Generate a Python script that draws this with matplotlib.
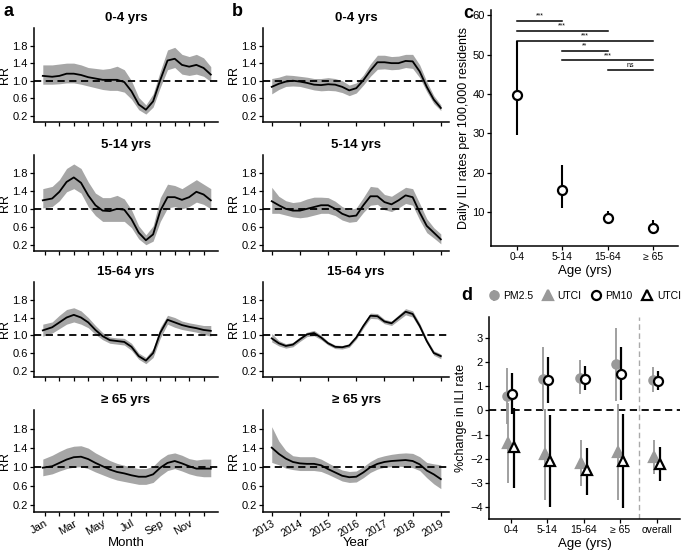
import matplotlib
matplotlib.use('Agg')
import matplotlib.pyplot as plt
import numpy as np

plt.rcParams['font.family'] = ['Liberation Sans', 'DejaVu Sans']

# ---------------- data ----------------
age_titles = ['0-4 yrs', '5-14 yrs', '15-64 yrs', '\u2265 65 yrs']

# panel a: seasonal RR by month (0 = Jan)
month_x = [-0.15, 0.5, 1.0, 1.5, 2.0, 2.5, 3.0, 3.5, 4.0, 4.5, 5.0, 5.5,
           6.0, 6.5, 7.0, 7.5, 8.0, 8.5, 9.0, 9.5, 10.0, 10.5, 11.0, 11.5]
month_labels = ['Jan', '', 'Mar', '', 'May', '', 'Jul', '', 'Sep', '', 'Nov', '']

season_rr = [
    [1.11, 1.09, 1.11, 1.16, 1.16, 1.13, 1.08, 1.05, 1.02, 1.02, 1.02, 0.97,
     0.76, 0.46, 0.34, 0.53, 1.02, 1.46, 1.50, 1.36, 1.32, 1.36, 1.29, 1.14],
    [1.19, 1.23, 1.38, 1.60, 1.70, 1.58, 1.30, 1.08, 0.96, 0.95, 1.00, 0.98,
     0.77, 0.47, 0.30, 0.43, 0.96, 1.26, 1.26, 1.20, 1.26, 1.38, 1.32, 1.19],
    [1.11, 1.18, 1.29, 1.40, 1.46, 1.40, 1.29, 1.12, 0.98, 0.89, 0.87, 0.85,
     0.74, 0.53, 0.43, 0.60, 1.06, 1.35, 1.29, 1.23, 1.19, 1.16, 1.12, 1.10],
    [0.99, 1.02, 1.09, 1.16, 1.21, 1.22, 1.17, 1.09, 1.02, 0.95, 0.90, 0.87,
     0.83, 0.80, 0.80, 0.85, 0.99, 1.09, 1.13, 1.08, 1.02, 0.97, 0.97, 0.97],
]
season_hi = [
    [1.36, 1.36, 1.38, 1.40, 1.40, 1.36, 1.30, 1.28, 1.26, 1.28, 1.33, 1.25,
     1.00, 0.62, 0.45, 0.70, 1.22, 1.70, 1.76, 1.60, 1.55, 1.60, 1.52, 1.32],
    [1.45, 1.50, 1.65, 1.90, 2.00, 1.90, 1.60, 1.35, 1.25, 1.25, 1.30, 1.22,
     0.98, 0.62, 0.42, 0.62, 1.25, 1.55, 1.52, 1.45, 1.55, 1.65, 1.55, 1.45],
    [1.25, 1.30, 1.45, 1.58, 1.62, 1.55, 1.40, 1.22, 1.06, 0.96, 0.94, 0.93,
     0.82, 0.60, 0.50, 0.70, 1.18, 1.45, 1.40, 1.32, 1.28, 1.25, 1.22, 1.22],
    [1.17, 1.25, 1.33, 1.40, 1.44, 1.45, 1.40, 1.30, 1.22, 1.14, 1.08, 1.04,
     1.00, 0.97, 0.97, 1.02, 1.17, 1.27, 1.30, 1.25, 1.18, 1.15, 1.17, 1.17],
]
season_lo = [
    [0.92, 0.92, 0.93, 0.95, 0.95, 0.92, 0.88, 0.84, 0.80, 0.78, 0.78, 0.74,
     0.58, 0.34, 0.24, 0.40, 0.85, 1.25, 1.30, 1.15, 1.12, 1.15, 1.10, 0.98],
    [1.02, 1.05, 1.18, 1.38, 1.45, 1.35, 1.05, 0.85, 0.72, 0.72, 0.72, 0.72,
     0.58, 0.33, 0.20, 0.28, 0.72, 1.02, 1.05, 1.00, 1.05, 1.15, 1.10, 1.00],
    [0.98, 1.05, 1.15, 1.25, 1.30, 1.25, 1.17, 1.02, 0.90, 0.82, 0.80, 0.78,
     0.66, 0.46, 0.36, 0.50, 0.94, 1.25, 1.18, 1.13, 1.10, 1.07, 1.02, 0.98],
    [0.82, 0.86, 0.92, 0.97, 1.00, 1.01, 0.97, 0.90, 0.84, 0.78, 0.73, 0.70,
     0.67, 0.64, 0.64, 0.68, 0.82, 0.93, 0.97, 0.92, 0.86, 0.82, 0.80, 0.80],
]

# panel b: long-term trend RR by year
year_x = [2013.0, 2013.25, 2013.5, 2013.75, 2014.0, 2014.25, 2014.5, 2014.75,
          2015.0, 2015.25, 2015.5, 2015.75, 2016.0, 2016.25, 2016.5, 2016.75,
          2017.0, 2017.25, 2017.5, 2017.75, 2018.0, 2018.25, 2018.5, 2018.75, 2019.0]
year_ticks = [2013, 2014, 2015, 2016, 2017, 2018, 2019]

trend_rr = [
    [0.86, 0.93, 0.98, 1.00, 0.98, 0.95, 0.91, 0.90, 0.92, 0.91, 0.86, 0.78,
     0.83, 1.01, 1.23, 1.42, 1.42, 1.40, 1.40, 1.45, 1.44, 1.21, 0.86, 0.57, 0.38],
    [1.17, 1.08, 1.00, 0.96, 0.96, 1.00, 1.04, 1.08, 1.08, 1.00, 0.89, 0.83,
     0.85, 1.08, 1.28, 1.28, 1.15, 1.10, 1.19, 1.30, 1.26, 0.92, 0.62, 0.47, 0.32],
    [0.93, 0.82, 0.76, 0.79, 0.91, 1.02, 1.05, 0.95, 0.82, 0.74, 0.73, 0.77,
     0.95, 1.21, 1.44, 1.43, 1.31, 1.27, 1.40, 1.53, 1.48, 1.21, 0.87, 0.60, 0.53],
    [1.41, 1.28, 1.18, 1.11, 1.08, 1.07, 1.07, 1.04, 0.96, 0.89, 0.82, 0.79,
     0.80, 0.89, 1.00, 1.07, 1.11, 1.13, 1.14, 1.15, 1.13, 1.06, 0.93, 0.85, 0.75],
]
trend_hi = [
    [1.05, 1.08, 1.13, 1.12, 1.10, 1.08, 1.05, 1.05, 1.07, 1.05, 1.00, 0.90,
     0.95, 1.13, 1.38, 1.58, 1.58, 1.55, 1.56, 1.60, 1.60, 1.36, 0.98, 0.66, 0.45],
    [1.48, 1.28, 1.18, 1.14, 1.16, 1.22, 1.26, 1.26, 1.25, 1.17, 1.05, 0.98,
     1.02, 1.25, 1.50, 1.48, 1.32, 1.28, 1.38, 1.48, 1.45, 1.12, 0.78, 0.58, 0.44],
    [1.04, 0.88, 0.81, 0.84, 0.96, 1.07, 1.11, 1.00, 0.86, 0.78, 0.77, 0.81,
     0.99, 1.26, 1.50, 1.49, 1.36, 1.32, 1.46, 1.60, 1.55, 1.27, 0.92, 0.65, 0.58],
    [1.85, 1.55, 1.35, 1.24, 1.22, 1.22, 1.22, 1.17, 1.09, 1.01, 0.94, 0.91,
     0.92, 1.01, 1.12, 1.20, 1.24, 1.27, 1.29, 1.30, 1.29, 1.22, 1.10, 1.07, 1.05],
]
trend_lo = [
    [0.70, 0.80, 0.87, 0.88, 0.87, 0.83, 0.79, 0.77, 0.78, 0.77, 0.73, 0.66,
     0.72, 0.90, 1.10, 1.26, 1.27, 1.25, 1.26, 1.30, 1.28, 1.07, 0.75, 0.48, 0.32],
    [0.90, 0.90, 0.86, 0.82, 0.80, 0.82, 0.86, 0.90, 0.90, 0.85, 0.75, 0.70,
     0.72, 0.92, 1.08, 1.10, 0.98, 0.94, 1.02, 1.12, 1.08, 0.75, 0.47, 0.35, 0.22],
    [0.85, 0.76, 0.71, 0.74, 0.86, 0.97, 0.99, 0.90, 0.78, 0.70, 0.69, 0.73,
     0.91, 1.16, 1.38, 1.37, 1.26, 1.22, 1.34, 1.46, 1.41, 1.15, 0.82, 0.55, 0.47],
    [1.10, 1.05, 0.98, 0.95, 0.93, 0.93, 0.93, 0.91, 0.85, 0.78, 0.71, 0.68,
     0.69, 0.78, 0.89, 0.96, 1.00, 1.01, 1.02, 1.01, 0.99, 0.93, 0.78, 0.65, 0.55],
]

# panel c: daily ILI rates
age_groups = ['0-4', '5-14', '15-64', '\u2265 65']
ili_rate = [39.8, 15.6, 8.5, 5.9]
ili_low = [29.7, 11.1, 7.1, 4.4]
ili_high = [53.5, 21.9, 10.4, 8.0]
sig_pairs = [(0, 1), (0, 2), (0, 3), (1, 2), (1, 3), (2, 3)]
sig_heights = [58.6, 56.0, 53.5, 51.0, 48.5, 46.0]
sig_labels = ['***', '***', '***', '**', '***', 'ns']

# panel d: % change in ILI rate
d_groups = ['0-4', '5-14', '15-64', '\u2265 65', 'overall']
pm25 = [0.58, 1.31, 1.36, 1.92, 1.28]
pm25_lo = [-0.55, 0.00, 0.70, 0.40, 0.76]
pm25_hi = [1.74, 2.64, 2.08, 3.40, 1.78]
utci_a = [-1.36, -1.80, -2.19, -1.74, -1.92]
utci_a_lo = [-3.00, -3.72, -3.12, -3.72, -2.64]
utci_a_hi = [0.30, 0.05, -1.22, 0.28, -1.22]
pm10 = [0.70, 1.25, 1.32, 1.51, 1.22]
pm10_lo = [-0.15, 0.30, 0.83, 0.42, 0.83]
pm10_hi = [1.55, 2.22, 1.83, 2.61, 1.64]
utci_b = [-1.53, -2.08, -2.47, -2.08, -2.22]
utci_b_lo = [-3.20, -4.00, -3.50, -4.05, -2.92]
utci_b_hi = [0.10, -0.21, -1.55, -0.14, -1.53]

# ---------------- figure ----------------
W, H = 684, 550
fig = plt.figure(figsize=(W / 100, H / 100), dpi=100)

band_col = '#a6a6a6'
grey = '#999999'


def px_axes(left, right, top, bottom):
    return fig.add_axes([left / W, 1 - bottom / H, (right - left) / W, (bottom - top) / H])


def style(ax):
    for s in ['top', 'right']:
        ax.spines[s].set_visible(False)
    for s in ['left', 'bottom']:
        ax.spines[s].set_linewidth(1.1)
    ax.tick_params(labelsize=8, length=3, width=0.9, pad=1.5, colors='black')


rows = [(28, 122), (155, 251), (282, 377), (410, 512)]

for i, (top, bottom) in enumerate(rows):
    # seasonal panel
    ax = px_axes(34, 218, top, bottom)
    style(ax)
    ax.fill_between(month_x, season_lo[i], season_hi[i], color=band_col, lw=0)
    ax.plot(month_x, season_rr[i], color='black', lw=1.3)
    ax.axhline(1.0, color='black', lw=1.3, ls=(0, (4, 2.5)))
    ax.set_xlim(-0.76, 12.0)
    ax.set_ylim(0.06, 2.2)
    ax.set_yticks([0.2, 0.6, 1.0, 1.4, 1.8])
    ax.set_ylabel('RR', fontsize=9, labelpad=1)
    ax.set_title(age_titles[i], fontsize=9.5, fontweight='bold', pad=5)
    ax.set_xticks(range(12))
    if i == 3:
        ax.set_xticklabels(month_labels, rotation=30, ha='right', rotation_mode='anchor')
        ax.set_xlabel('Month', fontsize=9.5, labelpad=0)
    else:
        ax.set_xticklabels([])

    # long-term trend panel
    ax = px_axes(263, 449, top, bottom)
    style(ax)
    ax.fill_between(year_x, trend_lo[i], trend_hi[i], color=band_col, lw=0)
    ax.plot(year_x, trend_rr[i], color='black', lw=1.3)
    ax.axhline(1.0, color='black', lw=1.3, ls=(0, (4, 2.5)))
    ax.set_xlim(2012.69, 2019.29)
    ax.set_ylim(0.06, 2.2)
    ax.set_yticks([0.2, 0.6, 1.0, 1.4, 1.8])
    ax.set_ylabel('RR', fontsize=9, labelpad=1)
    ax.set_title(age_titles[i], fontsize=9.5, fontweight='bold', pad=5)
    ax.set_xticks(year_ticks)
    if i == 3:
        ax.set_xticklabels([str(y) for y in year_ticks], rotation=30, ha='right',
                           rotation_mode='anchor', fontsize=7.5)
        ax.set_xlabel('Year', fontsize=9.5, labelpad=-1)
    else:
        ax.set_xticklabels([])

# panel c
axc = px_axes(491, 678, 10, 246)
style(axc)
xc = np.arange(len(age_groups))
rate = np.array(ili_rate)
axc.errorbar(xc, rate, yerr=[rate - np.array(ili_low), np.array(ili_high) - rate],
             fmt='o', color='black', ecolor='black', elinewidth=1.5, capsize=0,
             ms=6.5, mfc='white', mec='black', mew=1.6, zorder=3)
for (a, b), h, lab in zip(sig_pairs, sig_heights, sig_labels):
    axc.plot([a, b], [h, h], color='black', lw=1.1)
    axc.text((a + b) / 2, h + 0.3, lab, ha='center', va='bottom', fontsize=5)
axc.set_xlim(-0.57, 3.55)
axc.set_ylim(1.4, 61.3)
axc.set_yticks([10, 20, 30, 40, 50, 60])
axc.set_xticks(xc)
axc.set_xticklabels(age_groups, fontsize=7.5)
axc.set_xlabel('Age (yrs)', fontsize=9.5, labelpad=2)
axc.set_ylabel('Daily ILI rates per 100,000 residents', fontsize=9, labelpad=2)

# panel d
axd = px_axes(489, 680, 317, 519)
style(axd)
xd = np.arange(len(d_groups))


def eb(ax, off, y, lo, hi, marker, color, mfc, ms, ew, z):
    y = np.array(y)
    return ax.errorbar(xd + off, y, yerr=[y - np.array(lo), np.array(hi) - y],
                       fmt=marker, color=color, ecolor=color, elinewidth=ew,
                       capsize=0, ms=ms, mfc=mfc, mec=color, mew=1.6, zorder=z)


h1 = eb(axd, -0.12, pm25, pm25_lo, pm25_hi, 'o', grey, grey, 6, 1.3, 2)
h2 = eb(axd, -0.08, utci_a, utci_a_lo, utci_a_hi, '^', grey, grey, 7, 1.3, 2)
h3 = eb(axd, 0.02, pm10, pm10_lo, pm10_hi, 'o', 'black', 'white', 6.5, 1.6, 3)
h4 = eb(axd, 0.08, utci_b, utci_b_lo, utci_b_hi, '^', 'black', 'white', 7.5, 1.6, 3)
axd.axhline(0, color='black', lw=1.3, ls=(0, (4, 2.5)), zorder=1)
axd.axvline(3.5, color='#aaaaaa', lw=1.0, ls=(0, (4, 2.5)), zorder=1)
axd.set_xlim(-0.6, 4.63)
axd.set_ylim(-4.5, 3.87)
axd.set_yticks(range(-4, 4))
axd.set_xticks(xd)
axd.set_xticklabels(d_groups, fontsize=7.5)
axd.set_xlabel('Age (yrs)', fontsize=9.5, labelpad=2)
axd.set_ylabel('%change in ILI rate', fontsize=9, labelpad=2)
fig.legend([h1, h2, h3, h4], ['PM2.5', 'UTCI', 'PM10', 'UTCI'], ncol=4,
           loc='center left', bbox_to_anchor=(490 / W, 1 - 296 / H), frameon=False,
           fontsize=7.5, handlelength=0.8, handletextpad=0.5, columnspacing=1.0,
           borderaxespad=0, borderpad=0)

# panel letters
for lab, x, y in [('a', 3, 12), ('b', 232, 12), ('c', 463, 13), ('d', 461, 296)]:
    fig.text(x / W, 1 - y / H, lab, fontsize=13, fontweight='bold', va='center', ha='left')

fig.savefig('out.png', dpi=100)
